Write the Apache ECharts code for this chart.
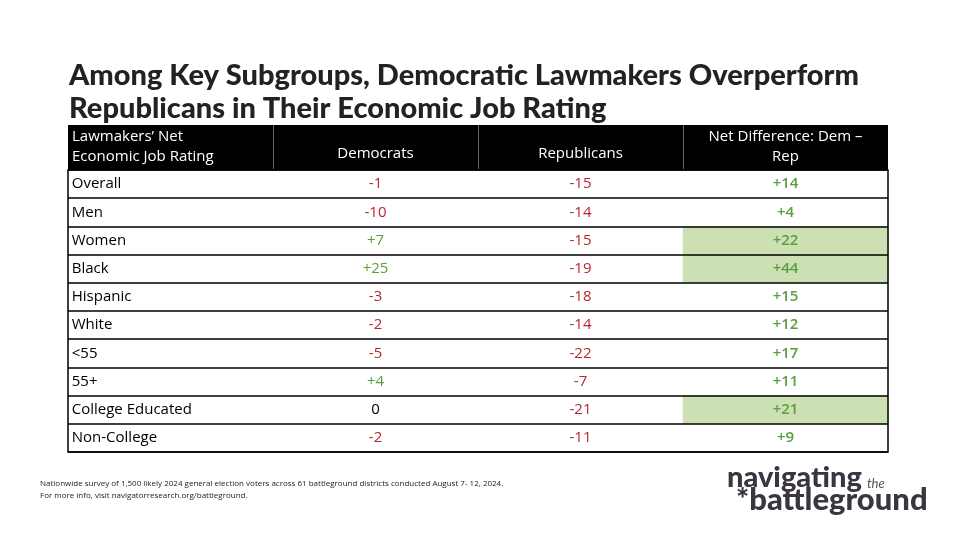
<!DOCTYPE html><html><head><meta charset="utf-8"><script src="https://cdn.jsdelivr.net/npm/echarts@6/dist/echarts.min.js"></script>
<style>body{margin:0}#c{width:960px;height:540px}</style></head><body><div id="c"></div><script>
const groups=['Overall','Men','Women','Black','Hispanic','White','<55','55+','College Educated','Non-College'];
const dem=[-1,-10,7,25,-3,-2,-5,4,0,-2];
const rep=[-15,-14,-15,-19,-18,-14,-22,-7,-21,-11];
const net=[14,4,22,44,15,12,17,11,21,9];
const highlighted=['Women','Black','College Educated'];
const headers=['Lawmakers\u2019 Net\nEconomic Job Rating','Democrats','Republicans','Net Difference: Dem \u2013\nRep'];
const cols=['g','d','r','n'];
const fmt=v=>v>0?'+'+v:String(v);
const col=v=>v<0?'#b3282d':(v>0?'#5a9e3e':'#000');
const data=[];
groups.forEach((g,i)=>{
 data.push({value:[0,i,0],name:g,itemStyle:{color:'rgba(255,255,255,0)'},label:{formatter:g,position:'insideLeft',distance:4,color:'#000'}});
 [dem[i],rep[i]].forEach((v,j)=>data.push({value:[j+1,i,v],itemStyle:{color:'rgba(255,255,255,0)'},label:{formatter:fmt(v),color:col(v)}}));
 data.push({value:[3,i,net[i]],itemStyle:{color:highlighted.includes(g)?'#cde0b4':'rgba(255,255,255,0)'},label:{formatter:fmt(net[i]),color:col(net[i]),fontWeight:600}});
});
const L=68,R=888,T=170,B=452,HT=125;
const cw=(R-L)/4;
const hdr=[{type:'rect',shape:{x:L,y:HT,width:R-L,height:T-HT},style:{fill:'#000'}}];
for(let k=1;k<4;k++)hdr.push({type:'rect',shape:{x:L+cw*k,y:HT,width:1,height:T-HT},style:{fill:'#666'}});
headers.forEach((h,k)=>hdr.push({type:'text',x:k==0?L+4:L+cw*k+cw/2,y:k==1||k==2?T-6:T-3,style:{text:h,fill:'#fff',font:'15px "Open Sans", Lato, sans-serif',align:k==0?'left':'center',verticalAlign:'bottom',lineHeight:20}}));
const ch=echarts.init(document.getElementById('c'));
ch.setOption({
 animation:false,backgroundColor:'#fff',
 title:{text:'Among Key Subgroups, Democratic Lawmakers Overperform\nRepublicans in Their Economic Job Rating',left:64,top:54,textStyle:{fontSize:29,fontWeight:900,color:'#222',lineHeight:33,fontFamily:'Lato, "Open Sans", sans-serif'}},
 grid:{left:L,right:960-R,top:T,bottom:540-B,show:true,borderColor:'#000',borderWidth:1.5,z:10},
 xAxis:{type:'category',data:cols,show:false},
 yAxis:{type:'category',data:groups,inverse:true,z:10,axisLabel:{show:false},axisTick:{show:false},axisLine:{show:false},splitLine:{show:true,lineStyle:{color:'#000',width:1.5}}},
 series:[{type:'heatmap',data:data,label:{show:true,fontSize:15,fontFamily:'"Open Sans", Lato, sans-serif'},itemStyle:{borderWidth:0},z:1}],
 graphic:hdr.concat([
  {type:'text',left:40,top:478,style:{text:'Nationwide survey of 1,500 likely 2024 general election voters across 61 battleground districts conducted August 7- 12, 2024.\nFor more info, visit navigatorresearch.org/battleground.',fill:'#222',font:'8px "Open Sans", sans-serif',lineHeight:12}},
  {type:'text',left:727,top:463,style:{text:'navigating',fill:'#3a3540',font:'900 29px Lato, sans-serif'}},
  {type:'text',left:867,top:477,style:{text:'the',fill:'#555',font:'italic 13px Lato, sans-serif'}},
  {type:'text',left:736,top:484,style:{text:'*battleground',fill:'#3a3540',font:'900 31px Lato, sans-serif'}}
 ])
});
</script></body></html>
